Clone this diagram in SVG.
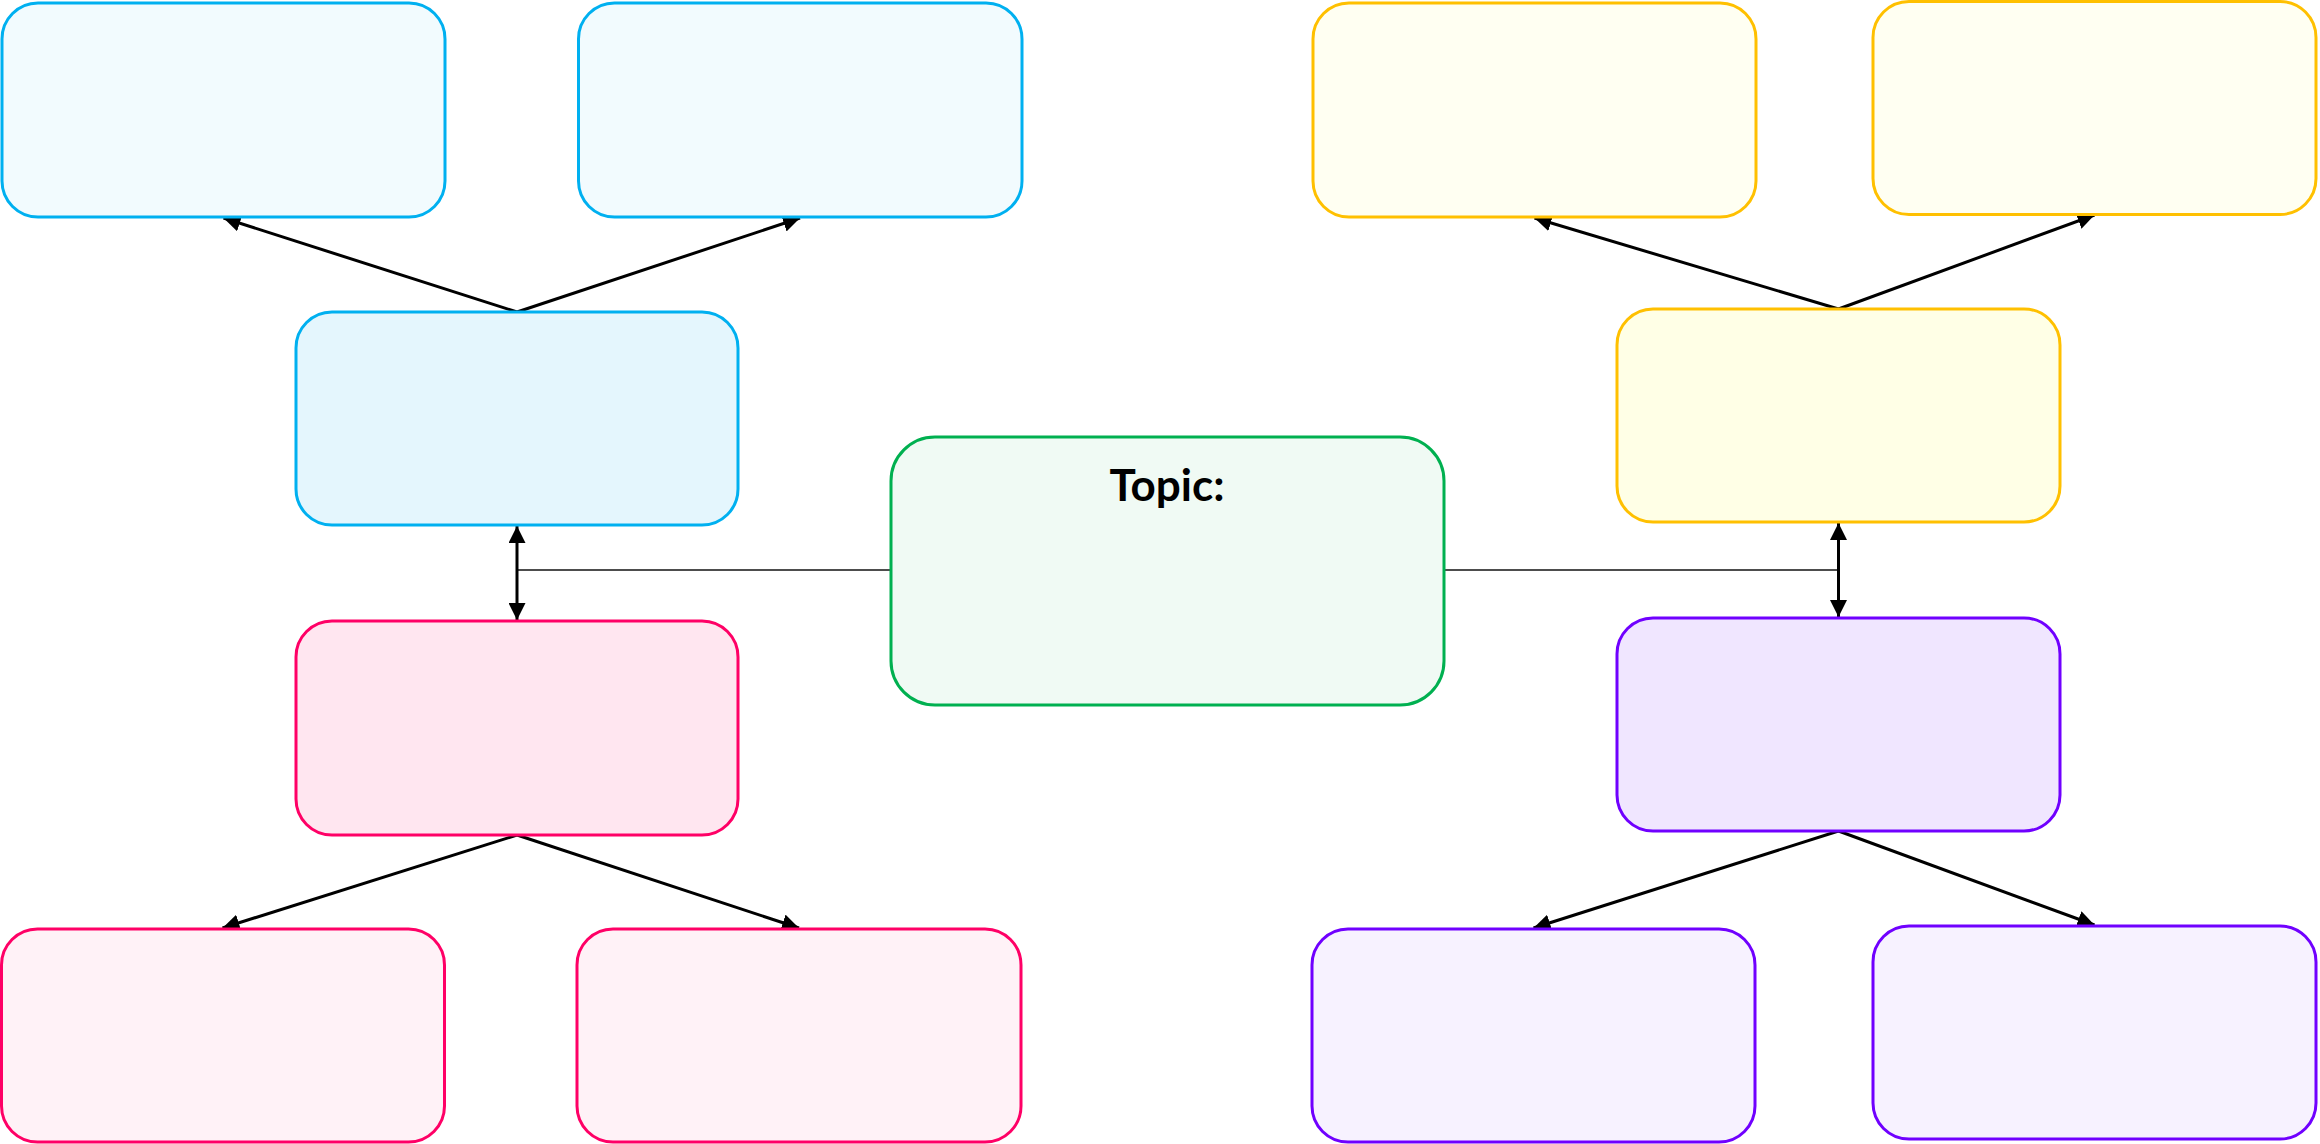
<svg xmlns="http://www.w3.org/2000/svg" width="2320" height="1144" viewBox="0 0 2320 1144">
<defs>
<marker id="ah" markerUnits="userSpaceOnUse" markerWidth="17" markerHeight="17" viewBox="0 0 17 17" refX="17" refY="8.5" orient="auto-start-reverse">
<path d="M0,0 L17,8.5 L0,17 z" fill="#000"/>
</marker>
<style>
.box{stroke-width:3}
.blue{stroke:#00B0F0}
.pink{stroke:#FF0066}
.yel{stroke:#FFC000}
.pur{stroke:#7000FF}
.grn{stroke:#00B050}
.arr{stroke:#000;stroke-width:3;fill:none}
.link{stroke:#4D4D4D;stroke-width:2;fill:none}
.title{font-family:Lato,"Liberation Sans",sans-serif;font-weight:bold;font-size:44px;fill:#000}
</style>
</defs>
<rect width="2320" height="1144" fill="#fff"/>
<g id="connectors">
<line class="link" x1="517" y1="570" x2="891" y2="570"/>
<line class="link" x1="1444" y1="570" x2="1838.5" y2="570"/>
<line class="arr" x1="517" y1="526" x2="517" y2="620" marker-start="url(#ah)" marker-end="url(#ah)"/>
<line class="arr" x1="1838.5" y1="523" x2="1838.5" y2="617" marker-start="url(#ah)" marker-end="url(#ah)"/>
<line class="arr" x1="517" y1="312" x2="223.5" y2="218" marker-end="url(#ah)"/>
<line class="arr" x1="517" y1="312" x2="800" y2="218" marker-end="url(#ah)"/>
<line class="arr" x1="1838.5" y1="309" x2="1534.5" y2="218" marker-end="url(#ah)"/>
<line class="arr" x1="1838.5" y1="309" x2="2094.5" y2="215" marker-end="url(#ah)"/>
<line class="arr" x1="517" y1="835" x2="222.5" y2="928" marker-end="url(#ah)"/>
<line class="arr" x1="517" y1="835" x2="799" y2="928" marker-end="url(#ah)"/>
<line class="arr" x1="1838.5" y1="831" x2="1533.5" y2="928" marker-end="url(#ah)"/>
<line class="arr" x1="1838.5" y1="831" x2="2094.5" y2="925" marker-end="url(#ah)"/>
</g>
<g id="blue-top-left"><rect class="box blue" x="2" y="3" width="443" height="214" rx="36" fill="#F2FBFE"/></g>
<g id="blue-top-right"><rect class="box blue" x="578.5" y="3" width="443.5" height="214" rx="36" fill="#F2FBFE"/></g>
<g id="blue-mid"><rect class="box blue" x="296" y="312" width="442" height="213" rx="36" fill="#E4F6FD"/></g>
<g id="pink-mid"><rect class="box pink" x="296" y="621" width="442" height="214" rx="36" fill="#FFE6F0"/></g>
<g id="pink-bottom-left"><rect class="box pink" x="1.5" y="929" width="443" height="213" rx="36" fill="#FFF2F7"/></g>
<g id="pink-bottom-right"><rect class="box pink" x="577" y="929" width="444" height="213" rx="36" fill="#FFF2F7"/></g>
<g id="topic"><rect class="box grn" x="891" y="437" width="553" height="268" rx="44" fill="#F0FAF4"/><text class="title" x="1167" y="501" text-anchor="middle">Topic:</text></g>
<g id="yellow-top-left"><rect class="box yel" x="1313" y="3" width="443" height="214" rx="36" fill="#FFFFF2"/></g>
<g id="yellow-top-right"><rect class="box yel" x="1873" y="1.5" width="443" height="213" rx="36" fill="#FFFFF2"/></g>
<g id="yellow-mid"><rect class="box yel" x="1617" y="309" width="443" height="213" rx="36" fill="#FFFFE6"/></g>
<g id="purple-mid"><rect class="box pur" x="1617" y="618" width="443" height="213" rx="36" fill="#F0E6FF"/></g>
<g id="purple-bottom-left"><rect class="box pur" x="1312" y="929" width="443" height="213" rx="36" fill="#F7F2FF"/></g>
<g id="purple-bottom-right"><rect class="box pur" x="1873" y="926" width="443" height="213" rx="36" fill="#F7F2FF"/></g>
</svg>
